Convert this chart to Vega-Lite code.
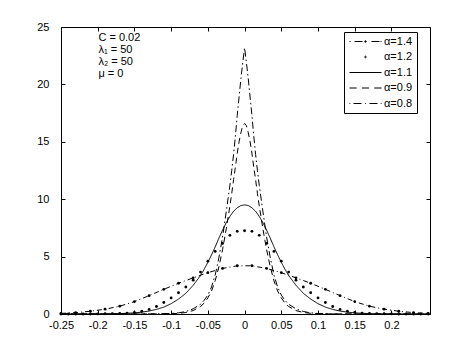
{
  "$schema": "https://vega.github.io/schema/vega-lite/v6.json",
  "width": 369,
  "height": 287,
  "autosize": {"type": "none"},
  "padding": {"left": 61, "top": 27, "right": 44, "bottom": 41},
  "background": "white",
  "config": {
    "view": {"stroke": "black", "strokeWidth": 1},
    "font": "Liberation Sans",
    "axis": {"domain": false, "grid": false, "tickColor": "black", "tickSize": -4, "labelColor": "black", "labelFont": "Liberation Sans", "labelFontSize": 11, "labelFlush": false, "labelOverlap": false}
  },
  "datasets": {
    "curves": [
      {"s":"α=0.8","x":-0.25,"y":0},{"s":"α=0.8","x":-0.2,"y":0},{"s":"α=0.8","x":-0.15,"y":0},{"s":"α=0.8","x":-0.12,"y":0.01},{"s":"α=0.8","x":-0.1,"y":0.05},{"s":"α=0.8","x":-0.09,"y":0.1},{"s":"α=0.8","x":-0.08,"y":0.22},{"s":"α=0.8","x":-0.07,"y":0.45},{"s":"α=0.8","x":-0.06,"y":0.85},{"s":"α=0.8","x":-0.055,"y":1.2},{"s":"α=0.8","x":-0.05,"y":1.65},{"s":"α=0.8","x":-0.045,"y":2.35},{"s":"α=0.8","x":-0.04,"y":3.4},{"s":"α=0.8","x":-0.035,"y":4.9},{"s":"α=0.8","x":-0.03,"y":6.7},{"s":"α=0.8","x":-0.025,"y":8.9},{"s":"α=0.8","x":-0.02,"y":11.2},{"s":"α=0.8","x":-0.0175,"y":12.5},{"s":"α=0.8","x":-0.015,"y":13.9},{"s":"α=0.8","x":-0.0125,"y":15.5},{"s":"α=0.8","x":-0.01,"y":17.3},{"s":"α=0.8","x":-0.0075,"y":18.9},{"s":"α=0.8","x":-0.005,"y":20.5},{"s":"α=0.8","x":-0.0025,"y":21.9},{"s":"α=0.8","x":0,"y":23.2},
      {"s":"α=0.8","x":0.0025,"y":21.9},{"s":"α=0.8","x":0.005,"y":20.5},{"s":"α=0.8","x":0.0075,"y":18.9},{"s":"α=0.8","x":0.01,"y":17.3},{"s":"α=0.8","x":0.0125,"y":15.5},{"s":"α=0.8","x":0.015,"y":13.9},{"s":"α=0.8","x":0.0175,"y":12.5},{"s":"α=0.8","x":0.02,"y":11.2},{"s":"α=0.8","x":0.025,"y":8.9},{"s":"α=0.8","x":0.03,"y":6.7},{"s":"α=0.8","x":0.035,"y":4.9},{"s":"α=0.8","x":0.04,"y":3.4},{"s":"α=0.8","x":0.045,"y":2.35},{"s":"α=0.8","x":0.05,"y":1.65},{"s":"α=0.8","x":0.055,"y":1.2},{"s":"α=0.8","x":0.06,"y":0.85},{"s":"α=0.8","x":0.07,"y":0.45},{"s":"α=0.8","x":0.08,"y":0.22},{"s":"α=0.8","x":0.09,"y":0.1},{"s":"α=0.8","x":0.1,"y":0.05},{"s":"α=0.8","x":0.12,"y":0.01},{"s":"α=0.8","x":0.15,"y":0},{"s":"α=0.8","x":0.2,"y":0},{"s":"α=0.8","x":0.25,"y":0},

      {"s":"α=0.9","x":-0.25,"y":0},{"s":"α=0.9","x":-0.2,"y":0},{"s":"α=0.9","x":-0.15,"y":0},{"s":"α=0.9","x":-0.12,"y":0.005},{"s":"α=0.9","x":-0.1,"y":0.025},{"s":"α=0.9","x":-0.09,"y":0.06},{"s":"α=0.9","x":-0.08,"y":0.13},{"s":"α=0.9","x":-0.07,"y":0.3},{"s":"α=0.9","x":-0.06,"y":0.65},{"s":"α=0.9","x":-0.055,"y":0.95},{"s":"α=0.9","x":-0.05,"y":1.4},{"s":"α=0.9","x":-0.045,"y":2.0},{"s":"α=0.9","x":-0.04,"y":2.9},{"s":"α=0.9","x":-0.035,"y":4.1},{"s":"α=0.9","x":-0.03,"y":5.6},{"s":"α=0.9","x":-0.025,"y":7.4},{"s":"α=0.9","x":-0.02,"y":9.4},{"s":"α=0.9","x":-0.0175,"y":10.5},{"s":"α=0.9","x":-0.015,"y":11.7},{"s":"α=0.9","x":-0.0125,"y":12.8},{"s":"α=0.9","x":-0.01,"y":14.0},{"s":"α=0.9","x":-0.0075,"y":15.0},{"s":"α=0.9","x":-0.005,"y":15.8},{"s":"α=0.9","x":-0.0025,"y":16.4},{"s":"α=0.9","x":0,"y":16.6},
      {"s":"α=0.9","x":0.0025,"y":16.4},{"s":"α=0.9","x":0.005,"y":15.8},{"s":"α=0.9","x":0.0075,"y":15.0},{"s":"α=0.9","x":0.01,"y":14.0},{"s":"α=0.9","x":0.0125,"y":12.8},{"s":"α=0.9","x":0.015,"y":11.7},{"s":"α=0.9","x":0.0175,"y":10.5},{"s":"α=0.9","x":0.02,"y":9.4},{"s":"α=0.9","x":0.025,"y":7.4},{"s":"α=0.9","x":0.03,"y":5.6},{"s":"α=0.9","x":0.035,"y":4.1},{"s":"α=0.9","x":0.04,"y":2.9},{"s":"α=0.9","x":0.045,"y":2.0},{"s":"α=0.9","x":0.05,"y":1.4},{"s":"α=0.9","x":0.055,"y":0.95},{"s":"α=0.9","x":0.06,"y":0.65},{"s":"α=0.9","x":0.07,"y":0.3},{"s":"α=0.9","x":0.08,"y":0.13},{"s":"α=0.9","x":0.09,"y":0.06},{"s":"α=0.9","x":0.1,"y":0.025},{"s":"α=0.9","x":0.12,"y":0.005},{"s":"α=0.9","x":0.15,"y":0},{"s":"α=0.9","x":0.2,"y":0},{"s":"α=0.9","x":0.25,"y":0},

      {"s":"α=1.1","x":-0.25,"y":0},{"s":"α=1.1","x":-0.2,"y":0.01},{"s":"α=1.1","x":-0.18,"y":0.02},{"s":"α=1.1","x":-0.16,"y":0.06},{"s":"α=1.1","x":-0.15,"y":0.1},{"s":"α=1.1","x":-0.14,"y":0.16},{"s":"α=1.1","x":-0.13,"y":0.26},{"s":"α=1.1","x":-0.12,"y":0.4},{"s":"α=1.1","x":-0.11,"y":0.6},{"s":"α=1.1","x":-0.1,"y":0.9},{"s":"α=1.1","x":-0.09,"y":1.3},{"s":"α=1.1","x":-0.08,"y":1.8},{"s":"α=1.1","x":-0.07,"y":2.5},{"s":"α=1.1","x":-0.06,"y":3.35},{"s":"α=1.1","x":-0.055,"y":3.9},{"s":"α=1.1","x":-0.05,"y":4.5},{"s":"α=1.1","x":-0.045,"y":5.15},{"s":"α=1.1","x":-0.04,"y":5.85},{"s":"α=1.1","x":-0.035,"y":6.6},{"s":"α=1.1","x":-0.03,"y":7.3},{"s":"α=1.1","x":-0.025,"y":7.95},{"s":"α=1.1","x":-0.02,"y":8.5},{"s":"α=1.1","x":-0.015,"y":8.95},{"s":"α=1.1","x":-0.01,"y":9.25},{"s":"α=1.1","x":-0.005,"y":9.45},{"s":"α=1.1","x":0,"y":9.5},
      {"s":"α=1.1","x":0.005,"y":9.45},{"s":"α=1.1","x":0.01,"y":9.25},{"s":"α=1.1","x":0.015,"y":8.95},{"s":"α=1.1","x":0.02,"y":8.5},{"s":"α=1.1","x":0.025,"y":7.95},{"s":"α=1.1","x":0.03,"y":7.3},{"s":"α=1.1","x":0.035,"y":6.6},{"s":"α=1.1","x":0.04,"y":5.85},{"s":"α=1.1","x":0.045,"y":5.15},{"s":"α=1.1","x":0.05,"y":4.5},{"s":"α=1.1","x":0.055,"y":3.9},{"s":"α=1.1","x":0.06,"y":3.35},{"s":"α=1.1","x":0.07,"y":2.5},{"s":"α=1.1","x":0.08,"y":1.8},{"s":"α=1.1","x":0.09,"y":1.3},{"s":"α=1.1","x":0.1,"y":0.9},{"s":"α=1.1","x":0.11,"y":0.6},{"s":"α=1.1","x":0.12,"y":0.4},{"s":"α=1.1","x":0.13,"y":0.26},{"s":"α=1.1","x":0.14,"y":0.16},{"s":"α=1.1","x":0.15,"y":0.1},{"s":"α=1.1","x":0.16,"y":0.06},{"s":"α=1.1","x":0.18,"y":0.02},{"s":"α=1.1","x":0.2,"y":0.01},{"s":"α=1.1","x":0.25,"y":0},

      {"s":"α=1.2","x":-0.25,"y":0},{"s":"α=1.2","x":-0.24,"y":0},{"s":"α=1.2","x":-0.23,"y":0},{"s":"α=1.2","x":-0.22,"y":0},{"s":"α=1.2","x":-0.21,"y":0},{"s":"α=1.2","x":-0.2,"y":0.01},{"s":"α=1.2","x":-0.19,"y":0.02},{"s":"α=1.2","x":-0.18,"y":0.03},{"s":"α=1.2","x":-0.17,"y":0.05},{"s":"α=1.2","x":-0.16,"y":0.08},{"s":"α=1.2","x":-0.15,"y":0.14},{"s":"α=1.2","x":-0.14,"y":0.24},{"s":"α=1.2","x":-0.13,"y":0.4},{"s":"α=1.2","x":-0.12,"y":0.65},{"s":"α=1.2","x":-0.11,"y":1.0},{"s":"α=1.2","x":-0.1,"y":1.4},{"s":"α=1.2","x":-0.09,"y":1.85},{"s":"α=1.2","x":-0.08,"y":2.35},{"s":"α=1.2","x":-0.07,"y":2.95},{"s":"α=1.2","x":-0.06,"y":3.65},{"s":"α=1.2","x":-0.05,"y":4.6},{"s":"α=1.2","x":-0.04,"y":5.45},{"s":"α=1.2","x":-0.03,"y":6.15},{"s":"α=1.2","x":-0.02,"y":6.85},{"s":"α=1.2","x":-0.01,"y":7.2},{"s":"α=1.2","x":0,"y":7.25},
      {"s":"α=1.2","x":0.01,"y":7.2},{"s":"α=1.2","x":0.02,"y":6.85},{"s":"α=1.2","x":0.03,"y":6.15},{"s":"α=1.2","x":0.04,"y":5.45},{"s":"α=1.2","x":0.05,"y":4.6},{"s":"α=1.2","x":0.06,"y":3.65},{"s":"α=1.2","x":0.07,"y":2.95},{"s":"α=1.2","x":0.08,"y":2.35},{"s":"α=1.2","x":0.09,"y":1.85},{"s":"α=1.2","x":0.1,"y":1.4},{"s":"α=1.2","x":0.11,"y":1.0},{"s":"α=1.2","x":0.12,"y":0.65},{"s":"α=1.2","x":0.13,"y":0.4},{"s":"α=1.2","x":0.14,"y":0.24},{"s":"α=1.2","x":0.15,"y":0.14},{"s":"α=1.2","x":0.16,"y":0.08},{"s":"α=1.2","x":0.17,"y":0.05},{"s":"α=1.2","x":0.18,"y":0.03},{"s":"α=1.2","x":0.19,"y":0.02},{"s":"α=1.2","x":0.2,"y":0.01},{"s":"α=1.2","x":0.21,"y":0},{"s":"α=1.2","x":0.22,"y":0},{"s":"α=1.2","x":0.23,"y":0},{"s":"α=1.2","x":0.24,"y":0},{"s":"α=1.2","x":0.25,"y":0},

      {"s":"α=1.4","x":-0.25,"y":0.05},{"s":"α=1.4","x":-0.23,"y":0.12},{"s":"α=1.4","x":-0.21,"y":0.24},{"s":"α=1.4","x":-0.19,"y":0.42},{"s":"α=1.4","x":-0.17,"y":0.68},{"s":"α=1.4","x":-0.15,"y":1.08},{"s":"α=1.4","x":-0.13,"y":1.6},{"s":"α=1.4","x":-0.11,"y":2.15},{"s":"α=1.4","x":-0.09,"y":2.68},{"s":"α=1.4","x":-0.07,"y":3.15},{"s":"α=1.4","x":-0.05,"y":3.6},{"s":"α=1.4","x":-0.03,"y":3.97},{"s":"α=1.4","x":-0.01,"y":4.2},
      {"s":"α=1.4","x":0.01,"y":4.2},{"s":"α=1.4","x":0.03,"y":3.97},{"s":"α=1.4","x":0.05,"y":3.6},{"s":"α=1.4","x":0.07,"y":3.15},{"s":"α=1.4","x":0.09,"y":2.68},{"s":"α=1.4","x":0.11,"y":2.15},{"s":"α=1.4","x":0.13,"y":1.6},{"s":"α=1.4","x":0.15,"y":1.08},{"s":"α=1.4","x":0.17,"y":0.68},{"s":"α=1.4","x":0.19,"y":0.42},{"s":"α=1.4","x":0.21,"y":0.24},{"s":"α=1.4","x":0.23,"y":0.12},{"s":"α=1.4","x":0.25,"y":0.05}
    ]
  },
  "layer": [
    {
      "data": {"name": "curves"},
      "transform": [{"filter": {"not": {"field": "s", "equal": "α=1.2"}}}],
      "mark": {"type": "line", "color": "black", "strokeWidth": 1},
      "encoding": {
        "x": {"field": "x", "type": "quantitative", "title": null,
              "scale": {"domain": [-0.25, 0.2525], "nice": false, "zero": false},
              "axis": {"values": [-0.25, -0.2, -0.15, -0.1, -0.05, 0, 0.05, 0.1, 0.15, 0.2], "labelExpr": "'' + datum.value", "labelPadding": 9}},
        "y": {"field": "y", "type": "quantitative", "title": null,
              "scale": {"domain": [0, 25], "nice": false, "zero": false},
              "axis": {"values": [0, 5, 10, 15, 20, 25], "labelPadding": 16}},
        "strokeDash": {"field": "s", "type": "nominal",
              "scale": {"domain": ["α=1.4", "α=1.1", "α=0.9", "α=0.8"], "range": [[5, 3, 1, 3], [1, 0], [6, 4], [7, 3, 1.5, 3]]},
              "legend": null}
      }
    },
    {
      "data": {"name": "curves"},
      "transform": [{"filter": {"field": "s", "oneOf": ["α=1.4", "α=1.2"]}}],
      "mark": {"type": "circle", "color": "black", "size": 8, "opacity": 1},
      "encoding": {
        "x": {"field": "x", "type": "quantitative", "axis": null},
        "y": {"field": "y", "type": "quantitative", "axis": null}
      }
    },
    {
      "data": {"name": "curves"},
      "mark": {"type": "point", "filled": false, "color": "black", "strokeWidth": 1, "opacity": 0},
      "encoding": {
        "x": {"field": "x", "type": "quantitative", "axis": null},
        "y": {"field": "y", "type": "quantitative", "axis": null},
        "shape": {"field": "s", "type": "nominal",
          "scale": {"domain": ["α=1.4", "α=1.2", "α=1.1", "α=0.9", "α=0.8"],
                    "range": [
                      "M-1,0H-0.75M0.25,0H2.25M2.9,0H3.1M4.75,0H5.25M3.2,0A0.2,0.2,0,1,1,2.8,0A0.2,0.2,0,1,1,3.2,0ZM4.5,0H6.5M6.75,0H7",
                      "M3.2,0A0.2,0.2,0,1,1,2.8,0A0.2,0.2,0,1,1,3.2,0Z",
                      "M-1,0H7",
                      "M-1,0H0.8M2.1,0H3.9M5.2,0H7",
                      "M-1,0H-0.8M0,0H2M2.9,0H3.1M4,0H6M6.8,0H7"
                    ]},
          "legend": {"title": null, "orient": "none", "legendX": 283, "legendY": 5, "strokeColor": "black", "fillColor": "white", "padding": 4, "cornerRadius": 0,
                     "symbolSize": 64, "symbolStrokeColor": "black", "symbolStrokeWidth": 1, "symbolOpacity": 1,
                     "labelFontSize": 11, "labelFont": "Liberation Sans", "labelColor": "black", "labelOffset": 25, "rowPadding": 3.5}
        }
      }
    },
    {
      "data": {"values": [{"x": -0.199, "y": 24.6, "t": "C = 0.02|λ₁ = 50|λ₂ = 50|μ = 0"}]},
      "mark": {"type": "text", "align": "left", "baseline": "top", "lineBreak": "|", "lineHeight": 12, "fontSize": 11, "font": "Liberation Sans", "color": "black"},
      "encoding": {
        "x": {"field": "x", "type": "quantitative", "title": null,
              "axis": {"orient": "top", "labels": false, "values": [-0.25, -0.2, -0.15, -0.1, -0.05, 0, 0.05, 0.1, 0.15, 0.2]}},
        "y": {"field": "y", "type": "quantitative", "title": null,
              "axis": {"orient": "right", "labels": false, "values": [0, 5, 10, 15, 20, 25]}},
        "text": {"field": "t", "type": "nominal"}
      }
    }
  ],
  "resolve": {"axis": {"x": "independent", "y": "independent"}}
}
